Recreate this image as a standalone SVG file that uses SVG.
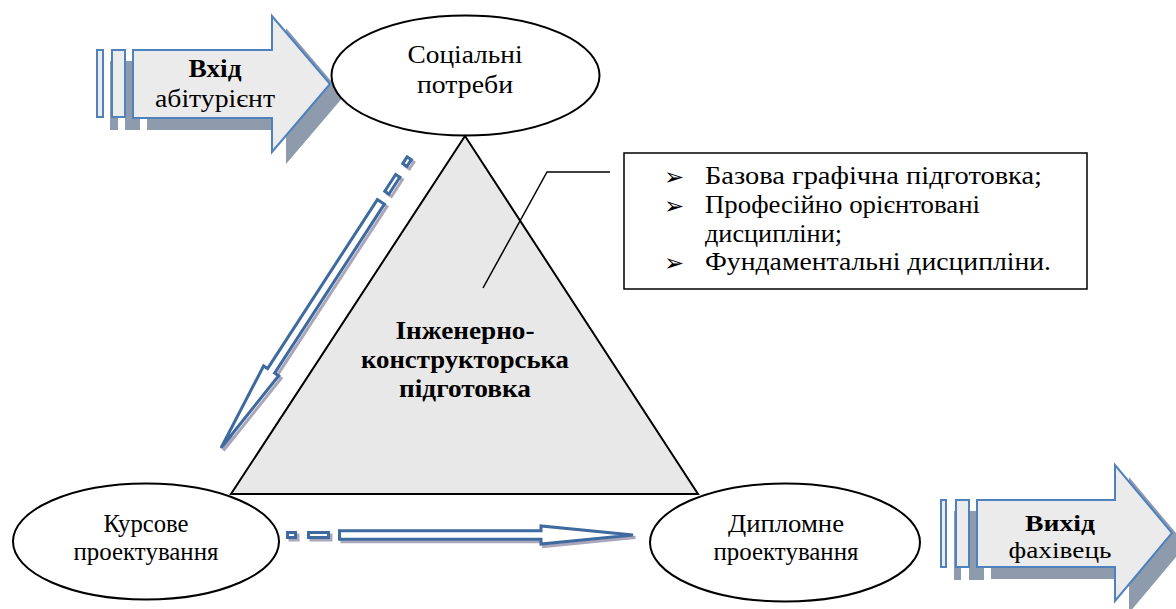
<svg xmlns="http://www.w3.org/2000/svg" width="1176" height="609" viewBox="0 0 1176 609">
<style>
text.t{font-family:'Liberation Serif','Times New Roman',Tinos,'DejaVu Serif',serif;font-size:25px;fill:#000;text-anchor:middle}
text.m{font-size:26px}
text.s{font-size:24px}
text.g{font-size:26px}
text.b{font-weight:bold}
text.l{text-anchor:start}
text.bul{font-family:'DejaVu Sans',sans-serif;font-size:24px;fill:#000}
.ell{fill:#fff;stroke:#000;stroke-width:2}
.big{fill:#ebebeb;stroke:#4f81bd;stroke-width:2}
.bsh{fill:#8e9bac}
.sm{fill:#fff;stroke:#3e6a9f;stroke-width:3}
.ssh{fill:none;stroke:#aaa7ba;stroke-width:3}
</style>
<defs>
<g id="smallArrow">
<rect x="1.5" y="-2.5" width="8" height="5"/>
<rect x="22.5" y="-2.5" width="20" height="5"/>
<path d="M53.5,-4.2 H255 V-9 L347,0 L255,9 V4.2 H53.5 Z"/>
</g>
</defs>

<g id="input-arrow">
<g class="bsh" transform="translate(14,12)">
<rect x="96" y="49" width="8" height="69"/>
<rect x="111" y="49" width="15" height="69"/>
<path d="M133,50 H272 V16 L330,84 L272,152 V118 H133 Z"/>
</g>
<rect class="big" x="97" y="50" width="6" height="67"/>
<rect class="big" x="112" y="50" width="13" height="67"/>
<path class="big" d="M133,50 H272 V16 L330,84 L272,152 V118 H133 Z"/>
<text class="t m b" x="215" y="77" textLength="53" lengthAdjust="spacingAndGlyphs">Вхід</text>
<text class="t m" x="215" y="107" textLength="120" lengthAdjust="spacingAndGlyphs">абітурієнт</text>
</g>

<g id="output-arrow">
<g class="bsh" transform="translate(14,12)">
<rect x="940" y="499" width="7" height="69"/>
<rect x="955" y="499" width="15" height="69"/>
<path d="M977,500 H1115 V465 L1172,533 L1115,601 V567 H977 Z"/>
</g>
<rect class="big" x="941" y="500" width="5" height="67"/>
<rect class="big" x="956" y="500" width="13" height="67"/>
<path class="big" d="M977,500 H1115 V465 L1172,533 L1115,601 V567 H977 Z"/>
<text class="t s b" x="1060" y="531" textLength="70" lengthAdjust="spacingAndGlyphs">Вихід</text>
<text class="t s" x="1060" y="558" textLength="103" lengthAdjust="spacingAndGlyphs">фахівець</text>
</g>

<g id="node-social">
<ellipse class="ell" cx="465.5" cy="75.5" rx="134" ry="60"/>
<text class="t" x="465" y="63" textLength="115" lengthAdjust="spacingAndGlyphs">Соціальні</text>
<text class="t" x="465" y="93" textLength="96" lengthAdjust="spacingAndGlyphs">потреби</text>
</g>

<g id="node-course">
<ellipse class="ell" cx="146" cy="541.5" rx="133" ry="58"/>
<text class="t" x="146" y="532" textLength="85" lengthAdjust="spacingAndGlyphs">Курсове</text>
<text class="t" x="146" y="560" textLength="145" lengthAdjust="spacingAndGlyphs">проектування</text>
</g>

<g id="node-diploma">
<ellipse class="ell" cx="785" cy="542.5" rx="135" ry="59"/>
<text class="t" x="786" y="532" textLength="116" lengthAdjust="spacingAndGlyphs">Дипломне</text>
<text class="t" x="786" y="560" textLength="145" lengthAdjust="spacingAndGlyphs">проектування</text>
</g>

<g id="node-triangle">
<polygon points="465,136 231,494 698,494" fill="#e8e8e8" stroke="#000" stroke-width="2"/>
<text class="t g b" x="465" y="339" textLength="139" lengthAdjust="spacingAndGlyphs">Інженерно-</text>
<text class="t g b" x="465" y="368" textLength="208" lengthAdjust="spacingAndGlyphs">конструкторська</text>
<text class="t g b" x="465" y="397" textLength="132" lengthAdjust="spacingAndGlyphs">підготовка</text>
</g>

<g id="connectors">
<g id="conn-diag">
<use href="#smallArrow" class="ssh" transform="translate(412.5,159.5) rotate(123)"/>
<use href="#smallArrow" class="sm" transform="translate(410,157) rotate(123)"/>
</g>
<g id="conn-bottom">
<use href="#smallArrow" class="ssh" transform="translate(288.5,537.5)"/>
<use href="#smallArrow" class="sm" transform="translate(286,535)"/>
</g>
<polyline id="leader" points="483,288 547,172 610,172" fill="none" stroke="#000" stroke-width="1.5"/>
</g>

<g id="node-list">
<rect x="624" y="153" width="463" height="136" fill="#fff" stroke="#000" stroke-width="1.5"/>
<text class="bul" x="664" y="185">➢</text>
<text class="t g l" x="705" y="184" textLength="337" lengthAdjust="spacingAndGlyphs">Базова графічна підготовка;</text>
<text class="bul" x="664" y="214">➢</text>
<text class="t g l" x="705" y="213" textLength="275" lengthAdjust="spacingAndGlyphs">Професійно орієнтовані</text>
<text class="t g l" x="705" y="242" textLength="137" lengthAdjust="spacingAndGlyphs">дисципліни;</text>
<text class="bul" x="664" y="271">➢</text>
<text class="t g l" x="705" y="270" textLength="346" lengthAdjust="spacingAndGlyphs">Фундаментальні дисципліни.</text>
</g>
</svg>
